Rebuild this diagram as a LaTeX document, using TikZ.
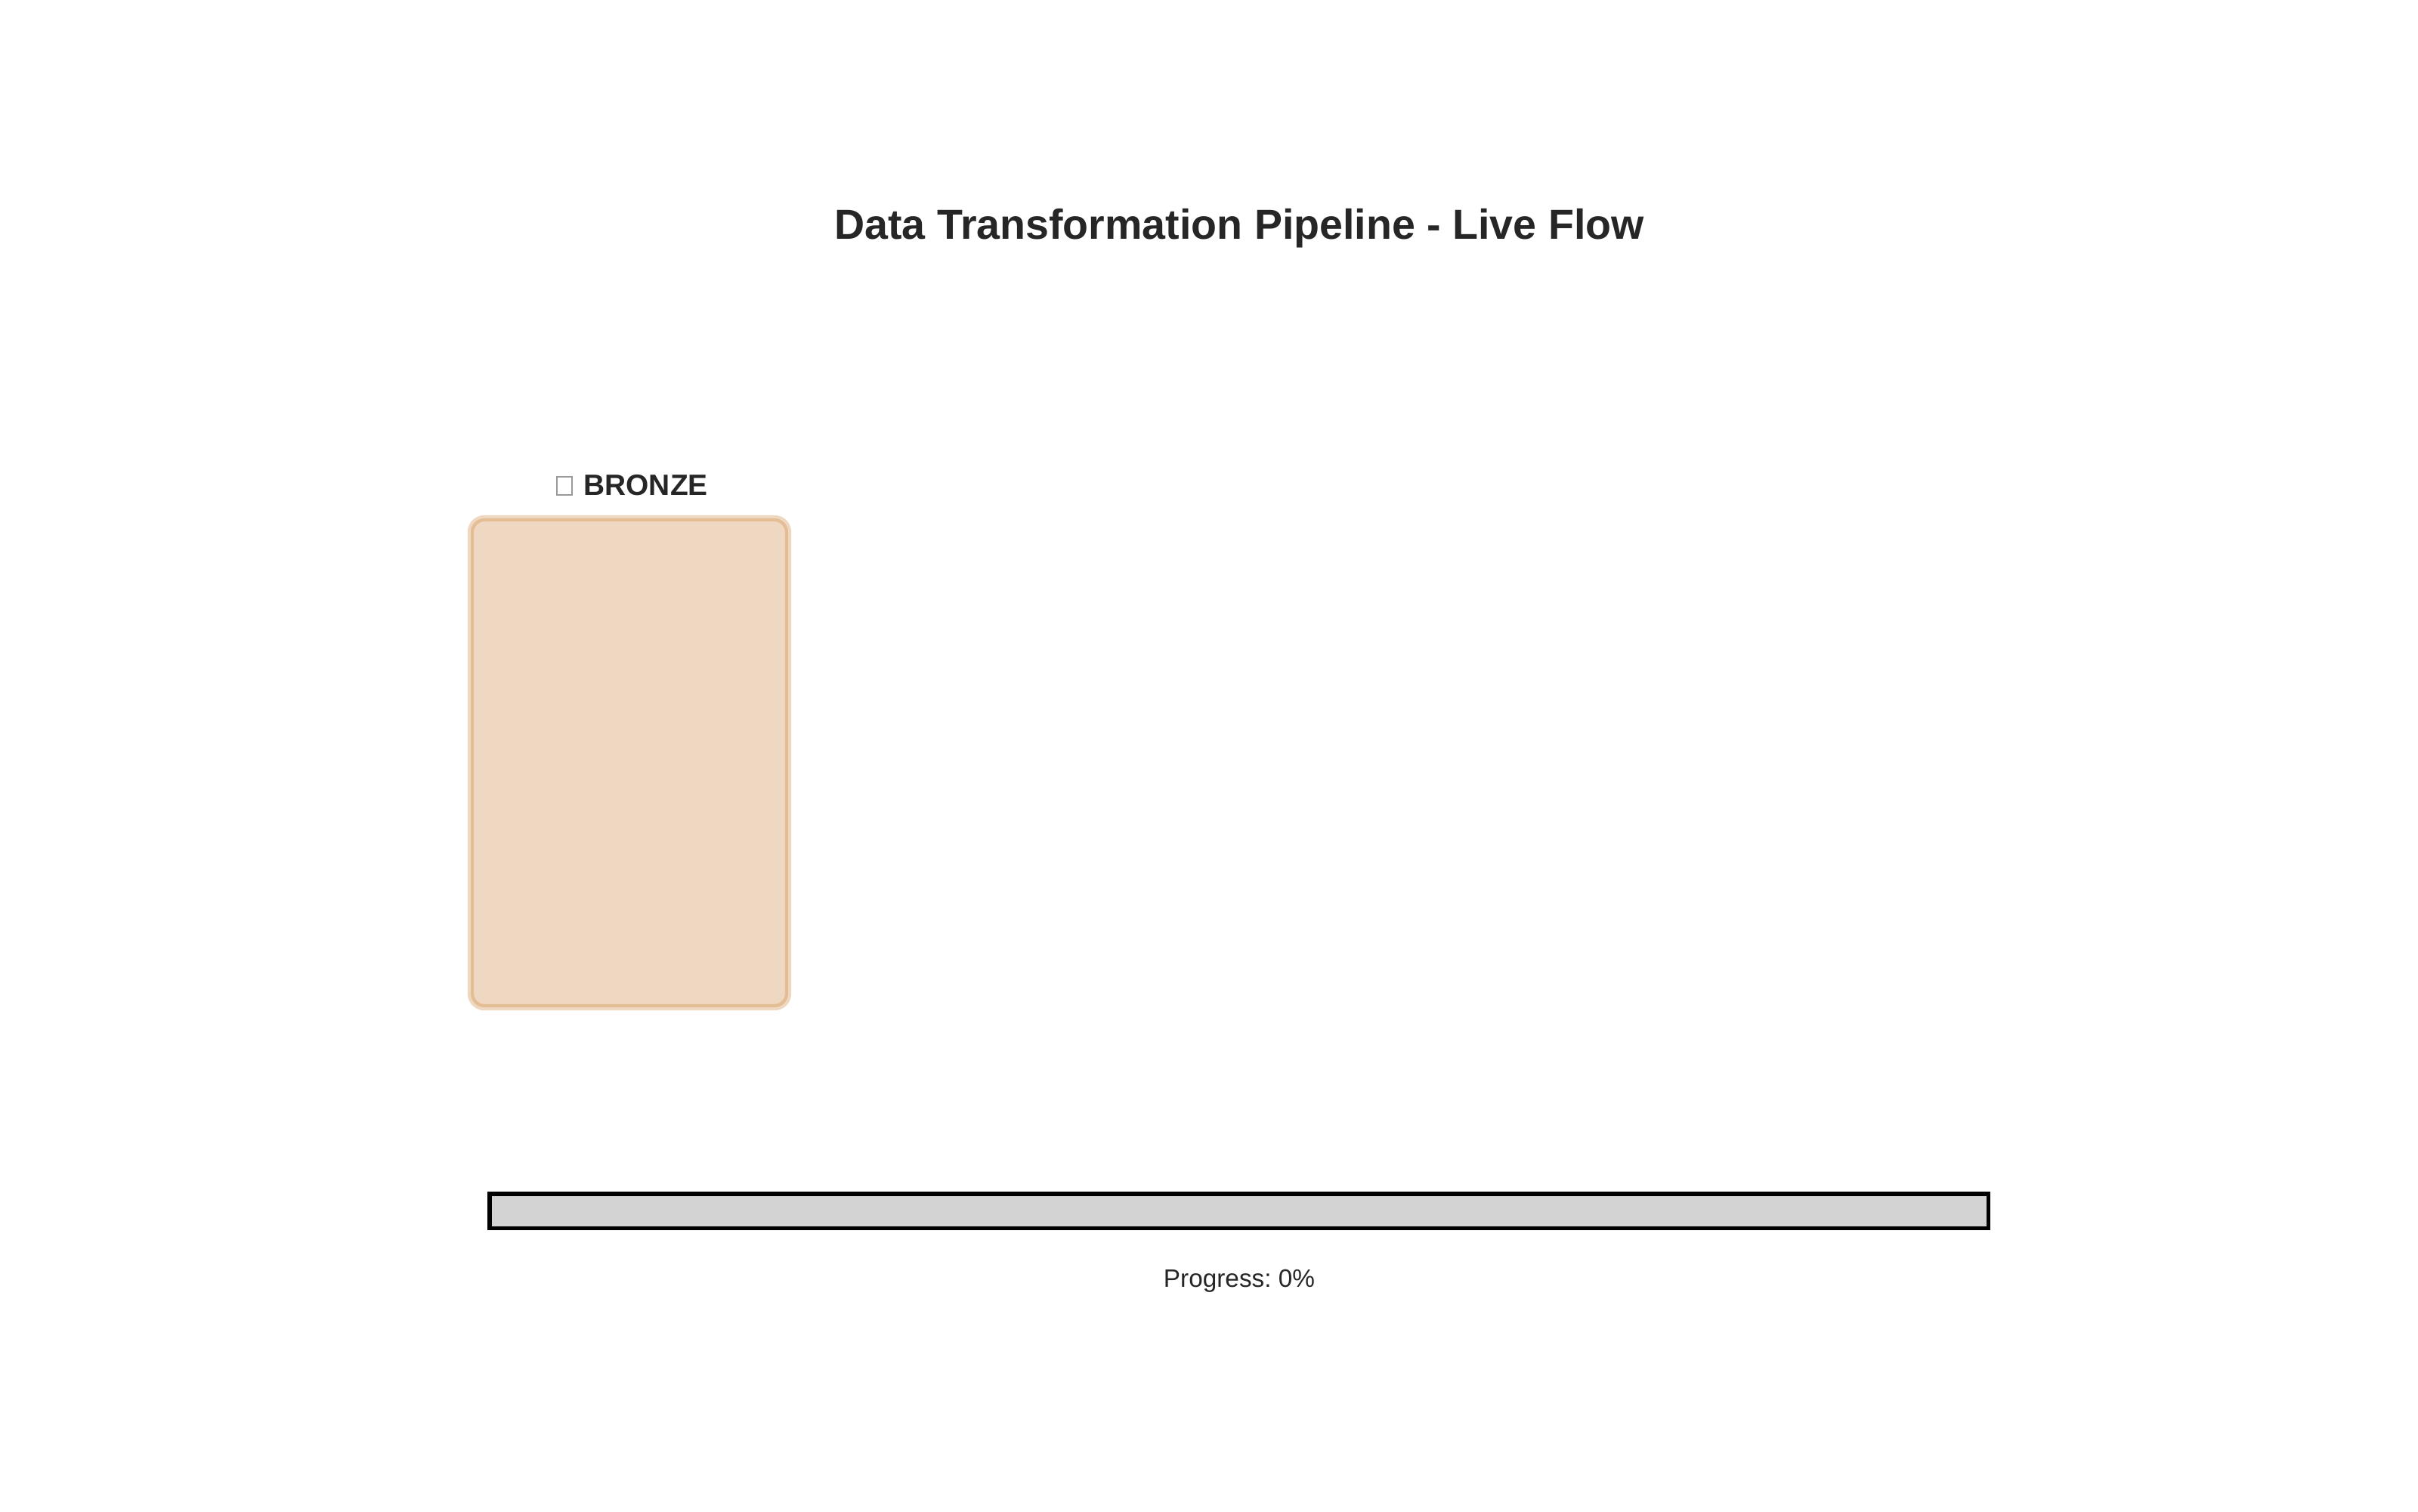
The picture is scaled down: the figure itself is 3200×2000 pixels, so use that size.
\documentclass[tikz,border=0pt]{standalone}
\usepackage{fontspec}
\setmainfont{Liberation Sans}
\frenchspacing
\definecolor{bronze}{HTML}{CD7F32}
\definecolor{txt}{HTML}{262626}
\definecolor{barfill}{HTML}{D3D3D3}
\begin{document}
\begin{tikzpicture}[x=0.36bp,y=-0.36bp,
  titletext/.style={font=\fontsize{20bp}{24bp}\selectfont\bfseries, text=txt, inner sep=0pt, anchor=base},
  layertext/.style={font=\fontsize{14bp}{17bp}\selectfont\bfseries, text=txt, inner sep=0pt, anchor=base west},
  infotext/.style={font=\fontsize{12bp}{14bp}\selectfont, text=txt, inner sep=0pt, anchor=base},
  layerbox/.style={draw=bronze, fill=bronze, fill opacity=0.3, draw opacity=0.3, line width=3bp, rounded corners=6.5bp, inner sep=0pt, minimum width=151.2bp, minimum height=232.92bp},
  tofu/.style={draw=gray!80, line width=0.6bp, inner sep=0pt, minimum width=7bp, minimum height=8.6bp},
  barbox/.style={draw=black, fill=barfill, line width=2bp, inner sep=0pt, minimum width=714.06bp, minimum height=16.38bp}]
\useasboundingbox[fill=white] (0,0) rectangle (3200,2000);
\node[titletext] (title) at (1640,316) {Data Transformation Pipeline - Live Flow};
\node[tofu] (icon) at (747,643) {};
\node[layertext] (bronzelabel) at (772,655) {BRONZE};
\node[layerbox] (bronze) at (833,1009.5) {};
\node[barbox] (bar) at (1639.75,1602.75) {};
\node[infotext] (progress) at (1640,1703) {Progress: 0\%};
\end{tikzpicture}
\end{document}
